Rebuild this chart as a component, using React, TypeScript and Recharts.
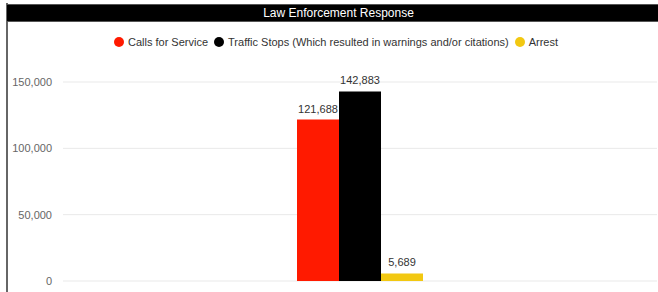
import React from "react";
import { BarChart, Bar, XAxis, YAxis, CartesianGrid, LabelList } from "recharts";

const categories = ["Law Enforcement Response"];
const seriesNames = ["Calls for Service", "Traffic Stops (Which resulted in warnings and/or citations)", "Arrest"];
const seriesKeys = ["calls", "traffic", "arrest"];
const seriesColors = ["#FF1A00", "#000000", "#F2C811"];
const callsValues = [121688];
const trafficValues = [142883];
const arrestValues = [5689];
const yTicks = [0, 50000, 100000, 150000];

const data = categories.map((c, i) => ({
  name: c,
  calls: callsValues[i],
  traffic: trafficValues[i],
  arrest: arrestValues[i],
}));

const FONT = "'Liberation Sans', Arial, sans-serif";
const fmt = (v: number) => v.toLocaleString("en-US");

export default function App() {
  return (
    <div style={{ position: "fixed", left: 0, top: 0, width: 658, height: 292, background: "#fff", overflow: "hidden", fontFamily: FONT }}>
      <div style={{ position: "absolute", left: 6, top: 3, width: 2, height: 289, background: "#666" }} />
      <div style={{ position: "absolute", left: 7, top: 4, width: 651, height: 18, background: "#000", borderTop: "1px solid #555", borderBottom: "1px solid #555", boxSizing: "border-box", color: "#fff", fontSize: 12, lineHeight: "16px", textAlign: "center", paddingLeft: 12 }}>
        {categories[0]}
      </div>
      <div style={{ position: "absolute", left: 0, top: 35, width: 658, display: "flex", justifyContent: "center", paddingLeft: 14, boxSizing: "border-box", fontSize: 11, color: "#333", lineHeight: "14px" }}>
        {seriesNames.map((n, i) => (
          <div key={n} style={{ display: "flex", alignItems: "center", marginRight: i < seriesNames.length - 1 ? 6 : 0 }}>
            <span style={{ display: "inline-block", width: 10, height: 10, borderRadius: 5, background: seriesColors[i], marginRight: 4 }} />
            <span>{n}</span>
          </div>
        ))}
      </div>
      <div style={{ position: "absolute", left: 0, top: 0 }}>
        <BarChart width={658} height={292} data={data} margin={{ top: 82, right: 1, bottom: 11, left: 0 }} barGap={0}>
          <CartesianGrid vertical={false} stroke="#e9e9e9" />
          <XAxis dataKey="name" hide />
          <YAxis
            width={63}
            domain={[0, 150000]}
            ticks={yTicks}
            tickFormatter={fmt}
            axisLine={false}
            tickLine={false}
            tickMargin={5}
            tick={{ fill: "#666", fontSize: 11, fontFamily: FONT }}
          />
          {seriesKeys.map((k, i) => (
            <Bar key={k} dataKey={k} fill={seriesColors[i]} barSize={42} isAnimationActive={false}>
              <LabelList dataKey={k} position="top" offset={7} formatter={(v: any) => fmt(Number(v))} style={{ fill: "#333", fontSize: 11, fontFamily: FONT }} />
            </Bar>
          ))}
        </BarChart>
      </div>
    </div>
  );
}
